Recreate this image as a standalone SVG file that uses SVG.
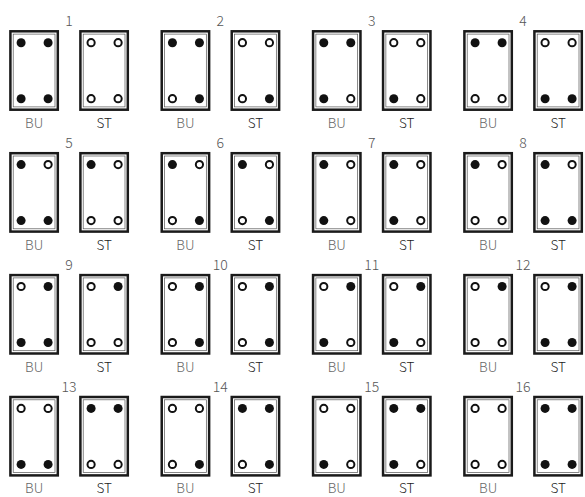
<svg xmlns="http://www.w3.org/2000/svg" xmlns:xlink="http://www.w3.org/1999/xlink" width="585" height="497" viewBox="0 0 585 497">
<style>
.bg{fill:#fff}
.outer{fill:none;stroke:#1a1a1a;stroke-width:2.5}
.inner{fill:none;stroke:#555;stroke-width:0.7}
.f{fill:#111}
.o{fill:#fff;stroke:#111;stroke-width:2}
text{font-family:"Noto Sans CJK SC","Noto Sans",sans-serif;font-weight:300;text-anchor:middle}
.num{font-size:14px;fill:#555}
.bu{font-size:13.5px;fill:#666}
.st{font-size:13.5px;fill:#222}
</style>
<defs>
<g id="frame"><rect class="outer" x="0" y="0" width="47.4" height="78.4"/><rect class="inner" x="2.8" y="2.8" width="41.8" height="72.8"/></g>
<circle id="F" class="f" r="4.5"/>
<circle id="O" class="o" r="3.6"/>
</defs>
<rect class="bg" width="585" height="497"/>
<g id="cells">
<g id="cell1" transform="translate(0,0)">
<use href="#frame" x="10.4" y="31.3"/><use href="#frame" x="80.4" y="31.3"/>
<use href="#F" x="21.1" y="42.7"/><use href="#F" x="48.1" y="42.7"/><use href="#F" x="21.1" y="98.7"/><use href="#F" x="48.1" y="98.7"/>
<use href="#O" x="91.1" y="42.7"/><use href="#O" x="118.1" y="42.7"/><use href="#O" x="91.1" y="98.7"/><use href="#O" x="118.1" y="98.7"/>
<text class="num" x="69" y="26">1</text><text class="bu" x="34.1" y="127.8">BU</text><text class="st" x="104.1" y="127.8">ST</text>
</g>
<g id="cell2" transform="translate(151.33,0)">
<use href="#frame" x="10.4" y="31.3"/><use href="#frame" x="80.4" y="31.3"/>
<use href="#F" x="21.1" y="42.7"/><use href="#F" x="48.1" y="42.7"/><use href="#O" x="21.1" y="98.7"/><use href="#F" x="48.1" y="98.7"/>
<use href="#O" x="91.1" y="42.7"/><use href="#O" x="118.1" y="42.7"/><use href="#O" x="91.1" y="98.7"/><use href="#F" x="118.1" y="98.7"/>
<text class="num" x="69" y="26">2</text><text class="bu" x="34.1" y="127.8">BU</text><text class="st" x="104.1" y="127.8">ST</text>
</g>
<g id="cell3" transform="translate(302.67,0)">
<use href="#frame" x="10.4" y="31.3"/><use href="#frame" x="80.4" y="31.3"/>
<use href="#F" x="21.1" y="42.7"/><use href="#F" x="48.1" y="42.7"/><use href="#F" x="21.1" y="98.7"/><use href="#O" x="48.1" y="98.7"/>
<use href="#O" x="91.1" y="42.7"/><use href="#O" x="118.1" y="42.7"/><use href="#F" x="91.1" y="98.7"/><use href="#O" x="118.1" y="98.7"/>
<text class="num" x="69" y="26">3</text><text class="bu" x="34.1" y="127.8">BU</text><text class="st" x="104.1" y="127.8">ST</text>
</g>
<g id="cell4" transform="translate(454,0)">
<use href="#frame" x="10.4" y="31.3"/><use href="#frame" x="80.4" y="31.3"/>
<use href="#F" x="21.1" y="42.7"/><use href="#F" x="48.1" y="42.7"/><use href="#O" x="21.1" y="98.7"/><use href="#O" x="48.1" y="98.7"/>
<use href="#O" x="91.1" y="42.7"/><use href="#O" x="118.1" y="42.7"/><use href="#F" x="91.1" y="98.7"/><use href="#F" x="118.1" y="98.7"/>
<text class="num" x="69" y="26">4</text><text class="bu" x="34.1" y="127.8">BU</text><text class="st" x="104.1" y="127.8">ST</text>
</g>
<g id="cell5" transform="translate(0,121.9)">
<use href="#frame" x="10.4" y="31.3"/><use href="#frame" x="80.4" y="31.3"/>
<use href="#F" x="21.1" y="42.7"/><use href="#O" x="48.1" y="42.7"/><use href="#F" x="21.1" y="98.7"/><use href="#F" x="48.1" y="98.7"/>
<use href="#F" x="91.1" y="42.7"/><use href="#O" x="118.1" y="42.7"/><use href="#O" x="91.1" y="98.7"/><use href="#O" x="118.1" y="98.7"/>
<text class="num" x="69" y="26">5</text><text class="bu" x="34.1" y="127.8">BU</text><text class="st" x="104.1" y="127.8">ST</text>
</g>
<g id="cell6" transform="translate(151.33,121.9)">
<use href="#frame" x="10.4" y="31.3"/><use href="#frame" x="80.4" y="31.3"/>
<use href="#F" x="21.1" y="42.7"/><use href="#O" x="48.1" y="42.7"/><use href="#O" x="21.1" y="98.7"/><use href="#F" x="48.1" y="98.7"/>
<use href="#F" x="91.1" y="42.7"/><use href="#O" x="118.1" y="42.7"/><use href="#O" x="91.1" y="98.7"/><use href="#F" x="118.1" y="98.7"/>
<text class="num" x="69" y="26">6</text><text class="bu" x="34.1" y="127.8">BU</text><text class="st" x="104.1" y="127.8">ST</text>
</g>
<g id="cell7" transform="translate(302.67,121.9)">
<use href="#frame" x="10.4" y="31.3"/><use href="#frame" x="80.4" y="31.3"/>
<use href="#F" x="21.1" y="42.7"/><use href="#O" x="48.1" y="42.7"/><use href="#F" x="21.1" y="98.7"/><use href="#O" x="48.1" y="98.7"/>
<use href="#F" x="91.1" y="42.7"/><use href="#O" x="118.1" y="42.7"/><use href="#F" x="91.1" y="98.7"/><use href="#O" x="118.1" y="98.7"/>
<text class="num" x="69" y="26">7</text><text class="bu" x="34.1" y="127.8">BU</text><text class="st" x="104.1" y="127.8">ST</text>
</g>
<g id="cell8" transform="translate(454,121.9)">
<use href="#frame" x="10.4" y="31.3"/><use href="#frame" x="80.4" y="31.3"/>
<use href="#F" x="21.1" y="42.7"/><use href="#O" x="48.1" y="42.7"/><use href="#O" x="21.1" y="98.7"/><use href="#O" x="48.1" y="98.7"/>
<use href="#F" x="91.1" y="42.7"/><use href="#O" x="118.1" y="42.7"/><use href="#F" x="91.1" y="98.7"/><use href="#F" x="118.1" y="98.7"/>
<text class="num" x="69" y="26">8</text><text class="bu" x="34.1" y="127.8">BU</text><text class="st" x="104.1" y="127.8">ST</text>
</g>
<g id="cell9" transform="translate(0,243.8)">
<use href="#frame" x="10.4" y="31.3"/><use href="#frame" x="80.4" y="31.3"/>
<use href="#O" x="21.1" y="42.7"/><use href="#F" x="48.1" y="42.7"/><use href="#F" x="21.1" y="98.7"/><use href="#F" x="48.1" y="98.7"/>
<use href="#O" x="91.1" y="42.7"/><use href="#F" x="118.1" y="42.7"/><use href="#O" x="91.1" y="98.7"/><use href="#O" x="118.1" y="98.7"/>
<text class="num" x="69" y="26">9</text><text class="bu" x="34.1" y="127.8">BU</text><text class="st" x="104.1" y="127.8">ST</text>
</g>
<g id="cell10" transform="translate(151.33,243.8)">
<use href="#frame" x="10.4" y="31.3"/><use href="#frame" x="80.4" y="31.3"/>
<use href="#O" x="21.1" y="42.7"/><use href="#F" x="48.1" y="42.7"/><use href="#O" x="21.1" y="98.7"/><use href="#F" x="48.1" y="98.7"/>
<use href="#O" x="91.1" y="42.7"/><use href="#F" x="118.1" y="42.7"/><use href="#O" x="91.1" y="98.7"/><use href="#F" x="118.1" y="98.7"/>
<text class="num" x="69" y="26">10</text><text class="bu" x="34.1" y="127.8">BU</text><text class="st" x="104.1" y="127.8">ST</text>
</g>
<g id="cell11" transform="translate(302.67,243.8)">
<use href="#frame" x="10.4" y="31.3"/><use href="#frame" x="80.4" y="31.3"/>
<use href="#O" x="21.1" y="42.7"/><use href="#F" x="48.1" y="42.7"/><use href="#F" x="21.1" y="98.7"/><use href="#O" x="48.1" y="98.7"/>
<use href="#O" x="91.1" y="42.7"/><use href="#F" x="118.1" y="42.7"/><use href="#F" x="91.1" y="98.7"/><use href="#O" x="118.1" y="98.7"/>
<text class="num" x="69" y="26">11</text><text class="bu" x="34.1" y="127.8">BU</text><text class="st" x="104.1" y="127.8">ST</text>
</g>
<g id="cell12" transform="translate(454,243.8)">
<use href="#frame" x="10.4" y="31.3"/><use href="#frame" x="80.4" y="31.3"/>
<use href="#O" x="21.1" y="42.7"/><use href="#F" x="48.1" y="42.7"/><use href="#O" x="21.1" y="98.7"/><use href="#O" x="48.1" y="98.7"/>
<use href="#O" x="91.1" y="42.7"/><use href="#F" x="118.1" y="42.7"/><use href="#F" x="91.1" y="98.7"/><use href="#F" x="118.1" y="98.7"/>
<text class="num" x="69" y="26">12</text><text class="bu" x="34.1" y="127.8">BU</text><text class="st" x="104.1" y="127.8">ST</text>
</g>
<g id="cell13" transform="translate(0,365.7)">
<use href="#frame" x="10.4" y="31.3"/><use href="#frame" x="80.4" y="31.3"/>
<use href="#O" x="21.1" y="42.7"/><use href="#O" x="48.1" y="42.7"/><use href="#F" x="21.1" y="98.7"/><use href="#F" x="48.1" y="98.7"/>
<use href="#F" x="91.1" y="42.7"/><use href="#F" x="118.1" y="42.7"/><use href="#O" x="91.1" y="98.7"/><use href="#O" x="118.1" y="98.7"/>
<text class="num" x="69" y="26">13</text><text class="bu" x="34.1" y="127.8">BU</text><text class="st" x="104.1" y="127.8">ST</text>
</g>
<g id="cell14" transform="translate(151.33,365.7)">
<use href="#frame" x="10.4" y="31.3"/><use href="#frame" x="80.4" y="31.3"/>
<use href="#O" x="21.1" y="42.7"/><use href="#O" x="48.1" y="42.7"/><use href="#O" x="21.1" y="98.7"/><use href="#F" x="48.1" y="98.7"/>
<use href="#F" x="91.1" y="42.7"/><use href="#F" x="118.1" y="42.7"/><use href="#O" x="91.1" y="98.7"/><use href="#F" x="118.1" y="98.7"/>
<text class="num" x="69" y="26">14</text><text class="bu" x="34.1" y="127.8">BU</text><text class="st" x="104.1" y="127.8">ST</text>
</g>
<g id="cell15" transform="translate(302.67,365.7)">
<use href="#frame" x="10.4" y="31.3"/><use href="#frame" x="80.4" y="31.3"/>
<use href="#O" x="21.1" y="42.7"/><use href="#O" x="48.1" y="42.7"/><use href="#F" x="21.1" y="98.7"/><use href="#O" x="48.1" y="98.7"/>
<use href="#F" x="91.1" y="42.7"/><use href="#F" x="118.1" y="42.7"/><use href="#F" x="91.1" y="98.7"/><use href="#O" x="118.1" y="98.7"/>
<text class="num" x="69" y="26">15</text><text class="bu" x="34.1" y="127.8">BU</text><text class="st" x="104.1" y="127.8">ST</text>
</g>
<g id="cell16" transform="translate(454,365.7)">
<use href="#frame" x="10.4" y="31.3"/><use href="#frame" x="80.4" y="31.3"/>
<use href="#O" x="21.1" y="42.7"/><use href="#O" x="48.1" y="42.7"/><use href="#O" x="21.1" y="98.7"/><use href="#O" x="48.1" y="98.7"/>
<use href="#F" x="91.1" y="42.7"/><use href="#F" x="118.1" y="42.7"/><use href="#F" x="91.1" y="98.7"/><use href="#F" x="118.1" y="98.7"/>
<text class="num" x="69" y="26">16</text><text class="bu" x="34.1" y="127.8">BU</text><text class="st" x="104.1" y="127.8">ST</text>
</g>
</g>
<g id="connectors"/>
</svg>
